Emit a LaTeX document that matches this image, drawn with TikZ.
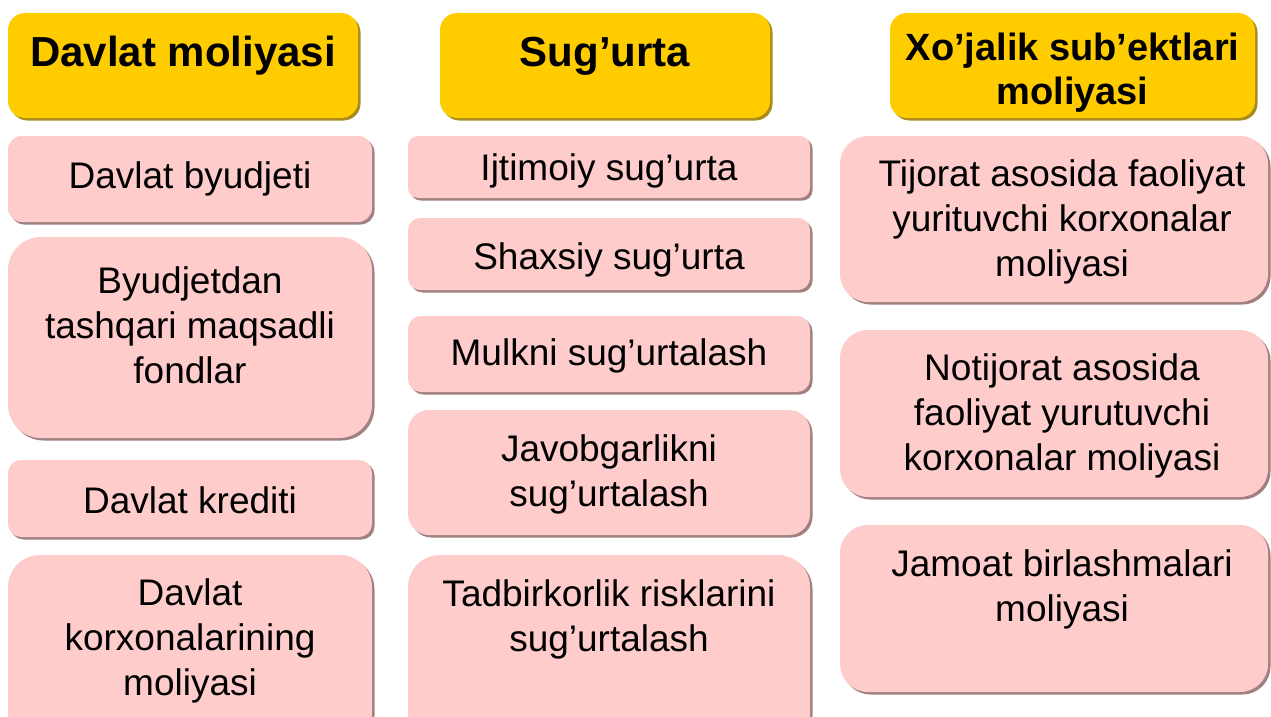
\documentclass[tikz,border=0pt]{standalone}
\usepackage{fontspec}
\setmainfont{Liberation Sans}
\usetikzlibrary{shadows}
\definecolor{gold}{HTML}{FFCC00}
\definecolor{goldshade}{HTML}{A88A1E}
\definecolor{rose}{HTML}{FFCCCC}
\definecolor{roseshade}{HTML}{A08080}
\begin{document}
\begin{tikzpicture}[x=1pt, y=-1pt,
  head/.style={fill=gold, inner sep=0pt, rounded corners=17pt,
    drop shadow={shadow xshift=2.5pt, shadow yshift=-2.5pt, fill=goldshade, opacity=1}},
  cell/.style={fill=rose, inner sep=0pt,
    drop shadow={shadow xshift=2.5pt, shadow yshift=-2.5pt, fill=roseshade, opacity=1}},
  headtext/.style={align=center, font=\fontsize{42}{50}\selectfont\bfseries},
  celltext/.style={align=center, font=\fontsize{37}{45}\selectfont}]
\useasboundingbox (0,0) rectangle (1271,717);
% headers
\node[head, minimum width=350pt, minimum height=105pt] (dm) at (183,65.5) {};
\node[head, minimum width=330pt, minimum height=105pt] (sg) at (605,65.5) {};
\node[head, minimum width=365pt, minimum height=105pt] (xs) at (1072.5,65.5) {};
\node[headtext] (dm-t) at (183,56) {Davlat moliyasi};
\node[headtext] (sg-t) at (605,56) {Sug’urta};
\node[headtext, font=\fontsize{38}{44}\selectfont\bfseries] (xs-t) at (1072.5,73) {Xo’jalik sub’ektlari\\moliyasi};
% first column
\node[cell, minimum width=364pt, minimum height=86pt, rounded corners=14pt] (db) at (190,179) {};
\node[cell, minimum width=364pt, minimum height=201pt, rounded corners=33pt] (bt) at (190,337.5) {};
\node[cell, minimum width=364pt, minimum height=77pt, rounded corners=13pt] (dk) at (190,498.5) {};
\node[cell, minimum width=364pt, minimum height=190pt, rounded corners=32pt] (dkm) at (190,650) {};
\node[celltext] (db-t) at (190,179) {Davlat byudjeti};
\node[celltext] (bt-t) at (190,325) {Byudjetdan\\tashqari maqsadli\\fondlar};
\node[celltext] (dk-t) at (190,500) {Davlat krediti};
\node[celltext] (dkm-t) at (190,641) {Davlat\\korxonalarining\\moliyasi};
% second column
\node[cell, minimum width=402pt, minimum height=62pt, rounded corners=10pt] (is) at (609,167) {};
\node[cell, minimum width=402pt, minimum height=72pt, rounded corners=12pt] (ss) at (609,254) {};
\node[cell, minimum width=402pt, minimum height=76pt, rounded corners=13pt] (ms) at (609,354) {};
\node[cell, minimum width=402pt, minimum height=125pt, rounded corners=21pt] (js) at (609,472.5) {};
\node[cell, minimum width=402pt, minimum height=190pt, rounded corners=32pt] (tr) at (609,650) {};
\node[celltext] (is-t) at (609,171) {Ijtimoiy sug’urta};
\node[celltext] (ss-t) at (609,260) {Shaxsiy sug’urta};
\node[celltext] (ms-t) at (609,356) {Mulkni sug’urtalash};
\node[celltext] (js-t) at (609,474) {Javobgarlikni\\sug’urtalash};
\node[celltext] (tr-t) at (609,619) {Tadbirkorlik risklarini\\sug’urtalash};
% third column
\node[cell, minimum width=428pt, minimum height=166pt, rounded corners=28pt] (tj) at (1054,219) {};
\node[cell, minimum width=428pt, minimum height=167pt, rounded corners=28pt] (nt) at (1054,413.5) {};
\node[cell, minimum width=428pt, minimum height=167pt, rounded corners=28pt] (jb) at (1054,608.5) {};
\node[celltext] (tj-t) at (1062,222) {Tijorat asosida faoliyat\\yurituvchi korxonalar\\moliyasi};
\node[celltext] (nt-t) at (1062,416) {Notijorat asosida\\faoliyat yurutuvchi\\korxonalar moliyasi};
\node[celltext] (jb-t) at (1062,589) {Jamoat birlashmalari\\moliyasi};
\end{tikzpicture}
\end{document}
